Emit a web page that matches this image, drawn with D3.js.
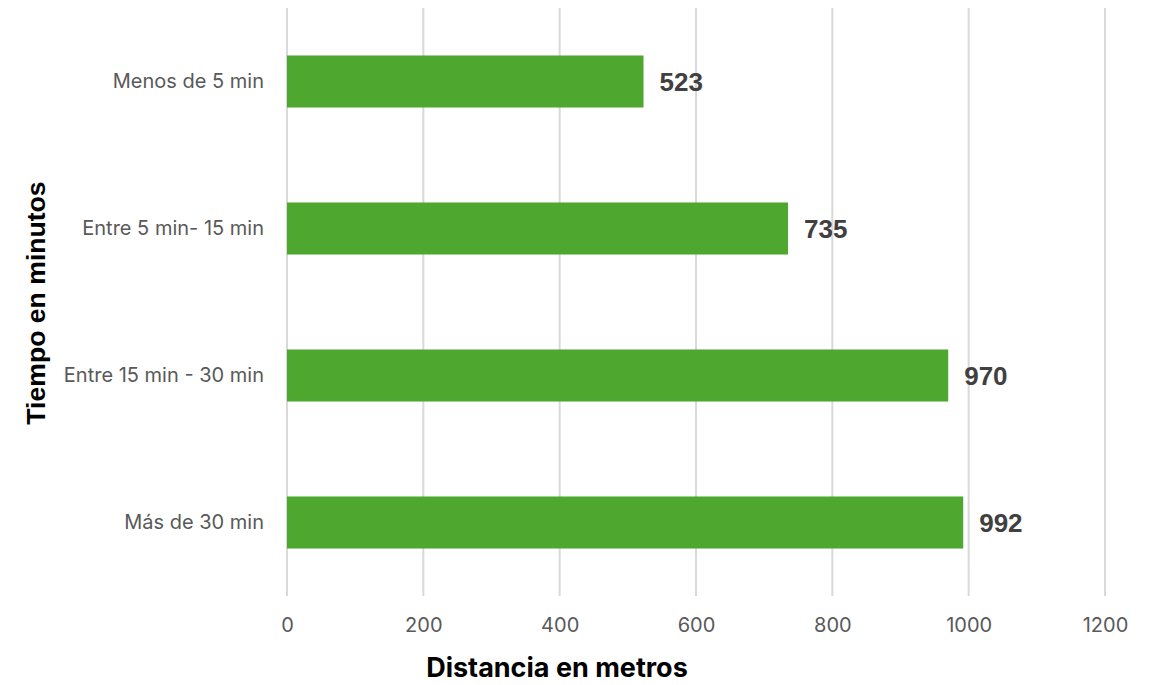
<!DOCTYPE html>
<html><head><meta charset="utf-8">
<script src="https://cdn.jsdelivr.net/npm/d3@7"></script>
<style>body{margin:0;background:#fff}</style>
</head><body><svg id="c" width="1158" height="685"></svg>
<script>
const categories = ["Menos de 5 min", "Entre 5 min- 15 min", "Entre 15 min - 30 min", "Más de 30 min"];
const values = [523, 735, 970, 992];
const xTicks = [0, 200, 400, 600, 800, 1000, 1200];
const xTitle = "Distancia en metros";
const yTitle = "Tiempo en minutos";

(function () {
const svg = d3.select("#c");
const pL = 287, pR = 1105, pT = 8, pB = 596;
const x = d3.scaleLinear().domain([0, 1200]).range([pL, pR]);
const y = d3.scaleBand().domain(categories).range([pT, pB]).paddingInner(0.646).paddingOuter(0.323);

svg.append("g").selectAll("line").data(xTicks).join("line")
  .attr("x1", d => x(d)).attr("x2", d => x(d))
  .attr("y1", pT).attr("y2", pB)
  .attr("stroke", "#d9d9d9").attr("stroke-width", 2);

svg.append("g").selectAll("rect").data(values).join("rect")
  .attr("x", x(0)).attr("y", (d, i) => y(categories[i]))
  .attr("width", d => x(d) - x(0)).attr("height", y.bandwidth())
  .attr("fill", "#4ea72e");

svg.append("g").selectAll("text").data(values).join("text")
  .attr("x", d => x(d) + 16).attr("y", (d, i) => y(categories[i]) + y.bandwidth() / 2)
  .attr("dy", "0.36em")
  .style("font-family", "'Liberation Sans', Arial, sans-serif").attr("font-weight", "bold")
  .attr("font-size", 26).attr("fill", "#404040")
  .text(d => d);

const xAxis = svg.append("g").attr("transform", `translate(0,${pB})`)
  .call(d3.axisBottom(x).tickValues(xTicks).tickSize(0).tickPadding(22).tickFormat(d3.format("d")));
xAxis.select(".domain").remove();
xAxis.selectAll("text").style("font-family", "Inter, sans-serif").attr("font-size", 20).attr("fill", "#595959");

const yAxis = svg.append("g").attr("transform", `translate(${pL},0)`)
  .call(d3.axisLeft(y).tickSize(0).tickPadding(23));
yAxis.select(".domain").remove();
yAxis.selectAll("text").style("font-family", "Inter, sans-serif").attr("font-size", 20).attr("fill", "#595959");

svg.append("text").attr("x", 557).attr("y", 677).attr("text-anchor", "middle")
  .style("font-family", "Inter, sans-serif").attr("font-weight", "bold").attr("font-size", 27).attr("fill", "#000")
  .text(xTitle);
svg.append("text").attr("transform", "translate(45,303) rotate(-90)").attr("text-anchor", "middle")
  .style("font-family", "'Liberation Sans', Arial, sans-serif").attr("font-weight", "bold").attr("font-size", 26.6).attr("fill", "#000")
  .text(yTitle);
})();
</script></body></html>
